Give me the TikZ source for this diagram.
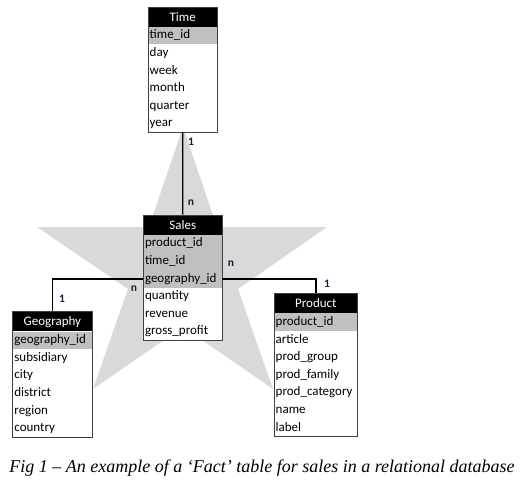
\documentclass[tikz,border=0pt]{standalone}
\usepackage{fontspec}
\setmainfont{Carlito}
\newfontfamily\captionfont{Liberation Serif}
\usetikzlibrary{positioning, fit}
\definecolor{star-gray}{RGB}{217,217,217}
\definecolor{key-gray}{RGB}{192,192,192}
\definecolor{card-navy}{RGB}{25,25,70}

\tikzset{
  head/.style={fill=black, text=white, minimum width=#1, minimum height=19.5pt, inner sep=0pt, anchor=north west, font=\fontsize{13}{15}\selectfont},
  field/.style={fill=white, draw=white, line width=0.4pt, text width=#1, minimum height=17.2pt, inner xsep=1.5pt, inner ysep=0pt, text height=9.5pt, text depth=3pt, align=left, font=\fontsize{13}{15}\selectfont},
  keyrow/.style={field=#1, fill=key-gray, draw=key-gray},
  frame/.style={draw=black!75, line width=0.8pt, inner sep=0pt},
  link/.style={draw=black, line width=1.3pt},
  card/.style={text=card-navy, inner sep=0pt, font=\bfseries\fontsize{11.5}{13}\selectfont}
}

\begin{document}
\begin{tikzpicture}[x=1pt, y=-1pt]
  \useasboundingbox (0,0) rectangle (526,487);

  % star behind the tables
  \fill[star-gray] (183,127) -- (217,227) -- (327,227) -- (238,289) -- (273,389)
    -- (183,327) -- (93,389) -- (128,289) -- (37,227) -- (149,227) -- cycle;

  % Time
  \node[head=69pt] (t0) at (148,7) {Time};
  \node[keyrow=66pt, below=0pt of t0] (t1) {time\_id};
  \node[field=66pt, below=0pt of t1] (t2) {day};
  \node[field=66pt, below=0pt of t2] (t3) {week};
  \node[field=66pt, below=0pt of t3] (t4) {month};
  \node[field=66pt, below=0pt of t4] (t5) {quarter};
  \node[field=66pt, below=0pt of t5] (t6) {year};
  \node[frame, fit=(t0)(t6)] (time) {};

  % Sales
  \node[head=78.5pt] (s0) at (143.3,215) {Sales};
  \node[keyrow=75.5pt, below=0pt of s0] (s1) {product\_id};
  \node[keyrow=75.5pt, below=0pt of s1] (s2) {time\_id};
  \node[keyrow=75.5pt, below=0pt of s2] (s3) {geography\_id};
  \node[field=75.5pt, below=0pt of s3] (s4) {quantity};
  \node[field=75.5pt, below=0pt of s4] (s5) {revenue};
  \node[field=75.5pt, below=0pt of s5] (s6) {gross\_profit};
  \node[frame, fit=(s0)(s6)] (sales) {};

  % Geography
  \node[head=79pt] (g0) at (12.7,311.7) {Geography};
  \node[keyrow=76pt, below=0pt of g0] (g1) {geography\_id};
  \node[field=76pt, below=0pt of g1] (g2) {subsidiary};
  \node[field=76pt, below=0pt of g2] (g3) {city};
  \node[field=76pt, below=0pt of g3] (g4) {district};
  \node[field=76pt, below=0pt of g4] (g5) {region};
  \node[field=76pt, below=0pt of g5] (g6) {country};
  \node[frame, fit=(g0)(g6)] (geography) {};

  % Product
  \node[head=83.3pt] (p0) at (274,293.5) {Product};
  \node[keyrow=80.3pt, below=0pt of p0] (p1) {product\_id};
  \node[field=80.3pt, below=0pt of p1] (p2) {article};
  \node[field=80.3pt, below=0pt of p2] (p3) {prod\_group};
  \node[field=80.3pt, below=0pt of p3] (p4) {prod\_family};
  \node[field=80.3pt, below=0pt of p4] (p5) {prod\_category};
  \node[field=80.3pt, below=0pt of p5] (p6) {name};
  \node[field=80.3pt, below=0pt of p6] (p7) {label};
  \node[frame, fit=(p0)(p7)] (product) {};

  % relations
  \draw[link] (time.south) -- (sales.north);
  \draw[link] (s3.west) -| (geography.north);
  \draw[link] (s3.east) -| (product.north);

  \node[card] (time-one) at (191,142) {1};
  \node[card] (time-n) at (191,203) {n};
  \node[card] (geo-n) at (134,289) {n};
  \node[card] (geo-one) at (62,299) {1};
  \node[card] (prod-n) at (231,264) {n};
  \node[card] (prod-one) at (327,284) {1};

  % caption
  \node[font=\captionfont\itshape\fontsize{18}{21}\selectfont] (caption) at (262,468)
    {Fig 1 – An example of a ‘Fact’ table for sales in a relational database};
\end{tikzpicture}
\end{document}
